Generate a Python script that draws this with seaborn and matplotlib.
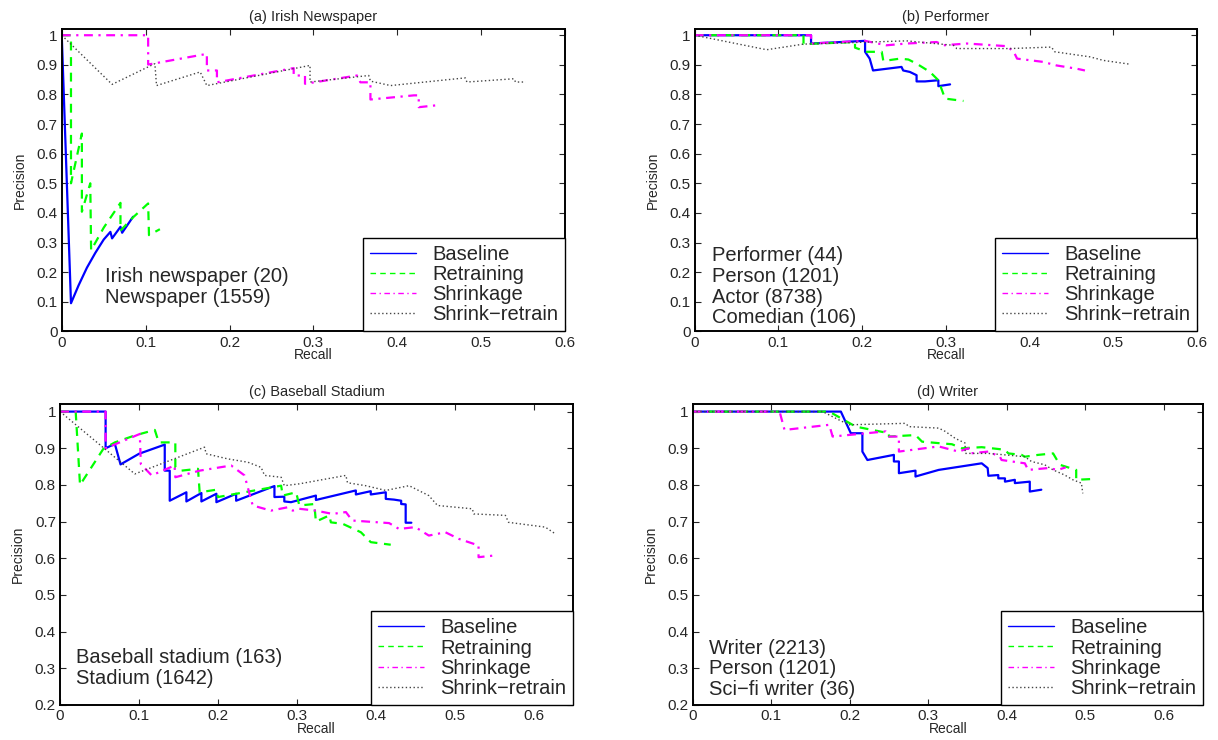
import seaborn as sns
import matplotlib.pyplot as plt
import pandas as pd

# Названия методов и стили линий
methods = ['Baseline', 'Retraining', 'Shrinkage', 'Shrink\u2212retrain']
colors = ['#0000ff', '#00ff00', '#ff00ff', '#444444']
styles = ['-', (0, (4, 3)), (0, (4, 2.5, 1, 2.5)), (0, (1, 1.8))]
widths = [1.6, 1.6, 1.6, 1.0]

# (a) Irish Newspaper
a_base_r = [0, 0.011, 0.02, 0.03, 0.04, 0.05, 0.058, 0.060, 0.070, 0.072, 0.085]
a_base_p = [1.0, 0.095, 0.155, 0.215, 0.265, 0.31, 0.336, 0.314, 0.353, 0.333, 0.387]
a_retr_r = [0, 0.011, 0.011, 0.024, 0.024, 0.034, 0.035, 0.05, 0.07, 0.07, 0.085, 0.103, 0.104, 0.117]
a_retr_p = [1.0, 1.0, 0.5, 0.668, 0.404, 0.5, 0.274, 0.35, 0.434, 0.34, 0.385, 0.432, 0.325, 0.345]
a_shrk_r = [0, 0.103, 0.103, 0.173, 0.173, 0.185, 0.185, 0.2765, 0.2765, 0.29, 0.29, 0.352, 0.356,
            0.368, 0.368, 0.42, 0.4256, 0.4256, 0.4455]
a_shrk_p = [1.0, 1.0, 0.901, 0.937, 0.881, 0.881, 0.841, 0.889, 0.864, 0.864, 0.836, 0.864, 0.841,
            0.841, 0.783, 0.797, 0.797, 0.757, 0.763]
a_srtr_r = [0, 0.06, 0.111, 0.113, 0.165, 0.173, 0.296, 0.296, 0.366, 0.368, 0.392, 0.481, 0.483,
            0.539, 0.541, 0.553]
a_srtr_p = [1.0, 0.834, 0.904, 0.830, 0.876, 0.830, 0.898, 0.842, 0.864, 0.845, 0.830, 0.856, 0.842,
            0.853, 0.842, 0.842]

# (b) Performer
b_base_r = [0, 0.139, 0.139, 0.2035, 0.2035, 0.209, 0.213, 0.247, 0.249, 0.257, 0.265, 0.265, 0.275,
            0.291, 0.291, 0.305]
b_base_p = [1.0, 1.0, 0.972, 0.981, 0.944, 0.921, 0.881, 0.893, 0.881, 0.876, 0.865, 0.844, 0.844,
            0.848, 0.828, 0.834]
b_retr_r = [0, 0.13, 0.13, 0.1915, 0.1915, 0.2055, 0.2234, 0.2253, 0.2452, 0.2552, 0.265, 0.281,
            0.291, 0.299, 0.321]
b_retr_p = [1.0, 1.0, 0.970, 0.977, 0.958, 0.944, 0.944, 0.913, 0.921, 0.918, 0.904, 0.876,
            0.848, 0.786, 0.778]
b_shrk_r = [0, 0.139, 0.139, 0.2035, 0.229, 0.253, 0.289, 0.297, 0.325, 0.373, 0.381, 0.385, 0.416,
            0.432, 0.456, 0.466]
b_shrk_p = [1.0, 1.0, 0.972, 0.981, 0.966, 0.972, 0.977, 0.966, 0.972, 0.963, 0.944, 0.921, 0.910,
            0.898, 0.887, 0.881]
b_srtr_r = [0, 0.086, 0.13, 0.253, 0.309, 0.313, 0.377, 0.426, 0.430, 0.472, 0.488, 0.520]
b_srtr_p = [1.0, 0.951, 0.970, 0.981, 0.966, 0.955, 0.955, 0.960, 0.944, 0.927, 0.915, 0.902]

# (c) Baseball Stadium
c_base_r = [0, 0.0577, 0.0577, 0.0694, 0.0766, 0.10, 0.1326, 0.1326, 0.1389, 0.1389, 0.160, 0.160,
            0.179, 0.179, 0.198, 0.198, 0.223, 0.223, 0.2715, 0.2715, 0.284, 0.284, 0.2925, 0.324,
            0.324, 0.3746, 0.3746, 0.3935, 0.3935, 0.4125, 0.4125, 0.423, 0.432, 0.432, 0.4377,
            0.4377, 0.4449]
c_base_p = [1.0, 1.0, 0.900, 0.912, 0.856, 0.885, 0.910, 0.839, 0.839, 0.757, 0.780, 0.755,
            0.778, 0.755, 0.776, 0.753, 0.776, 0.757, 0.797, 0.767, 0.768, 0.755, 0.753, 0.771,
            0.759, 0.785, 0.774, 0.783, 0.774, 0.780, 0.762, 0.760, 0.757, 0.748, 0.747,
            0.697, 0.697]
c_retr_r = [0, 0.0198, 0.0253, 0.0547, 0.0694, 0.0947, 0.120, 0.125, 0.146, 0.146, 0.1536, 0.1747,
            0.1768, 0.198, 0.200, 0.280, 0.282, 0.299, 0.303, 0.322, 0.324, 0.341, 0.343, 0.358,
            0.381, 0.3935, 0.4188]
c_retr_p = [1.0, 1.0, 0.800, 0.898, 0.916, 0.935, 0.950, 0.916, 0.916, 0.848, 0.839, 0.844,
            0.780, 0.787, 0.767, 0.798, 0.771, 0.780, 0.744, 0.748, 0.700, 0.717, 0.698, 0.694,
            0.671, 0.644, 0.637]
c_shrk_r = [0, 0.0577, 0.0577, 0.101, 0.1023, 0.116, 0.145, 0.146, 0.1768, 0.2167, 0.2336, 0.244,
            0.267, 0.288, 0.2946, 0.303, 0.324, 0.345, 0.362, 0.370, 0.4167, 0.4293, 0.450, 0.467,
            0.488, 0.505, 0.530, 0.530, 0.5513]
c_shrk_p = [1.0, 1.0, 0.900, 0.939, 0.857, 0.826, 0.853, 0.821, 0.839, 0.853, 0.826, 0.744,
            0.730, 0.739, 0.730, 0.735, 0.730, 0.721, 0.726, 0.703, 0.696, 0.680, 0.685, 0.662,
            0.671, 0.653, 0.635, 0.603, 0.608]
c_srtr_r = [0, 0.0947, 0.183, 0.185, 0.2125, 0.2378, 0.2546, 0.259, 0.280, 0.284, 0.303, 0.362,
            0.364, 0.387, 0.4125, 0.442, 0.467, 0.478, 0.522, 0.524, 0.564, 0.568, 0.6145, 0.627]
c_srtr_p = [1.0, 0.830, 0.903, 0.885, 0.871, 0.862, 0.848, 0.826, 0.821, 0.798, 0.803, 0.826,
            0.806, 0.798, 0.785, 0.798, 0.771, 0.744, 0.735, 0.721, 0.717, 0.698, 0.685, 0.667]

# (d) Writer
d_base_r = [0, 0.1888, 0.2015, 0.2162, 0.2162, 0.2226, 0.2563, 0.2563, 0.2627, 0.2627, 0.2838,
            0.2838, 0.3133, 0.3681, 0.3757, 0.3766, 0.3892, 0.3892, 0.3977, 0.3977, 0.4103,
            0.4103, 0.4293, 0.4293, 0.444]
d_base_p = [1.0, 1.0, 0.941, 0.941, 0.891, 0.868, 0.882, 0.864, 0.864, 0.832, 0.839,
            0.823, 0.841, 0.859, 0.846, 0.825, 0.827, 0.818, 0.818, 0.809, 0.814,
            0.805, 0.809, 0.782, 0.787]
d_retr_r = [0, 0.174, 0.2078, 0.25, 0.25, 0.2838, 0.2922, 0.3133, 0.3302, 0.3428, 0.3681, 0.3977,
            0.402, 0.4188, 0.423, 0.44, 0.459, 0.4675, 0.4884, 0.4884, 0.507]
d_retr_p = [1.0, 1.0, 0.959, 0.941, 0.932, 0.936, 0.918, 0.914, 0.911, 0.900, 0.903, 0.896,
            0.886, 0.882, 0.877, 0.882, 0.886, 0.855, 0.841, 0.814, 0.816]
d_shrk_r = [0, 0.1108, 0.1171, 0.174, 0.1783, 0.2458, 0.25, 0.2627, 0.2627, 0.3133, 0.3386, 0.3513,
            0.3534, 0.3766, 0.3913, 0.3934, 0.423, 0.4272, 0.4525, 0.4652, 0.475]
d_shrk_p = [1.0, 1.0, 0.950, 0.964, 0.932, 0.946, 0.932, 0.932, 0.891, 0.905, 0.891, 0.900,
            0.886, 0.891, 0.877, 0.868, 0.859, 0.841, 0.846, 0.841, 0.848]
d_srtr_r = [0, 0.1656, 0.1867, 0.1994, 0.2711, 0.2753, 0.3133, 0.3217, 0.3344, 0.347, 0.347, 0.3766,
            0.3977, 0.423, 0.4314, 0.4483, 0.459, 0.4738, 0.4842, 0.495, 0.4968]
d_srtr_p = [1.0, 1.0, 0.977, 0.964, 0.968, 0.959, 0.955, 0.946, 0.927, 0.914, 0.886, 0.886,
            0.882, 0.877, 0.864, 0.855, 0.841, 0.827, 0.814, 0.805, 0.777]

titles = ['(a) Irish Newspaper', '(b) Performer', '(c) Baseball Stadium', '(d) Writer']
notes = [['Irish newspaper (20)', 'Newspaper (1559)'],
         ['Performer (44)', 'Person (1201)', 'Actor (8738)', 'Comedian (106)'],
         ['Baseball stadium (163)', 'Stadium (1642)'],
         ['Writer (2213)', 'Person (1201)', 'Sci\u2212fi writer (36)']]


def make_frame(series):
  rows = []
  for name, (r, p) in zip(methods, series):
    for i, (x, y) in enumerate(zip(r, p)):
      rows.append({'method': name, 'order': i, 'recall': x, 'precision': y})
  return pd.DataFrame(rows)


panels = [
  make_frame([(a_base_r, a_base_p), (a_retr_r, a_retr_p), (a_shrk_r, a_shrk_p), (a_srtr_r, a_srtr_p)]),
  make_frame([(b_base_r, b_base_p), (b_retr_r, b_retr_p), (b_shrk_r, b_shrk_p), (b_srtr_r, b_srtr_p)]),
  make_frame([(c_base_r, c_base_p), (c_retr_r, c_retr_p), (c_shrk_r, c_shrk_p), (c_srtr_r, c_srtr_p)]),
  make_frame([(d_base_r, d_base_p), (d_retr_r, d_retr_p), (d_shrk_r, d_shrk_p), (d_srtr_r, d_srtr_p)]),
]

# Расположение осей (доли фигуры)
boxes = [[0.0507, 0.5522, 0.4132, 0.4082],
         [0.5703, 0.5522, 0.4126, 0.4082],
         [0.0493, 0.0473, 0.4214, 0.4064],
         [0.5686, 0.0473, 0.4192, 0.4064]]
xmax = [0.6, 0.6, 0.65, 0.65]
ymin = [0, 0, 0.2, 0.2]
note_pos = [(0.086, 0.147), (0.034, 0.148), (0.032, 0.122), (0.032, 0.12)]

sns.set_style('ticks', {'xtick.direction': 'in', 'ytick.direction': 'in'})
plt.rcParams['font.family'] = ['Liberation Sans', 'DejaVu Sans']

fig = plt.figure(figsize=(12.18, 7.40), dpi=100)

for k in range(4):
  ax = fig.add_axes(boxes[k])
  df = panels[k]
  for j, name in enumerate(methods):
    sub = df[df['method'] == name]
    sns.lineplot(data=sub, x='recall', y='precision', ax=ax, sort=False, estimator=None,
                 color=colors[j], linestyle=styles[j], linewidth=widths[j], label=name)

  ax.set_xlim(0, xmax[k])
  ax.set_ylim(ymin[k], 1.02)
  xt = [i / 10 for i in range(7)]
  yt = [i / 10 for i in range(int(ymin[k] * 10), 11)]
  ax.set_xticks(xt)
  ax.set_xticklabels([f'{v:g}' for v in xt])
  ax.set_yticks(yt)
  ax.set_yticklabels([f'{v:g}' for v in yt])
  ax.tick_params(top=True, right=True, length=4, width=0.8, labelsize=11, pad=3)
  for s in ax.spines.values():
    s.set_linewidth(1.4)
    s.set_color('black')

  ax.set_title(titles[k], fontsize=10.5, pad=6)
  ax.set_xlabel('Recall', fontsize=10, labelpad=-1)
  ax.set_ylabel('Precision', fontsize=10, labelpad=7)

  leg = ax.legend(loc='lower right', fontsize=14.5, frameon=True, fancybox=False,
                  borderaxespad=0, borderpad=0.35, labelspacing=0.06, handlelength=2.3,
                  handletextpad=0.8, framealpha=1)
  leg.get_frame().set_edgecolor('black')
  leg.get_frame().set_linewidth(1.0)
  for line in leg.get_lines():
    line.set_linewidth(1.0)

  ax.text(note_pos[k][0], note_pos[k][1], '\n'.join(notes[k]), transform=ax.transAxes,
          fontsize=14.5, va='center', ha='left', linespacing=1.12)

fig.savefig('out.png', dpi=100)
